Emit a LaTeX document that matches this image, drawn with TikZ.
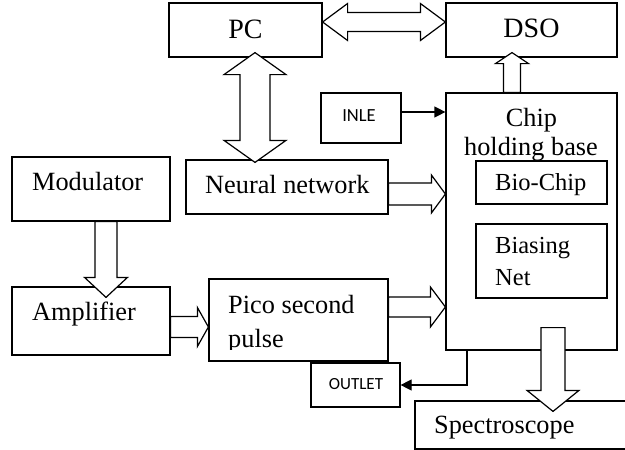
\documentclass[tikz,border=0pt]{standalone}
\usepackage{fontspec}
\setmainfont{Liberation Serif}
\newfontfamily\calfont{Carlito}
\usetikzlibrary{calc,fit,arrows.meta}
\tikzset{
  box/.style={draw, line width=1.2pt, inner sep=0pt, fill=white},
  blk/.style={draw, line width=1.2pt, fill=white, line join=miter},
  lbl/.style={inner sep=0pt, anchor=base west, font=\fontsize{26.3}{30}\selectfont},
  lblc/.style={inner sep=0pt, anchor=base, font=\fontsize{26.3}{30}\selectfont},
  small/.style={inner sep=0pt, anchor=base west, font=\fontsize{24.5}{28}\selectfont},
  big/.style={inner sep=0pt, anchor=base, font=\fontsize{28}{32}\selectfont},
  thin/.style={line width=1.2pt, -{Triangle[length=11pt,width=11pt]}}
}
% single block arrow: from, to, shaft half width, head half width, head length
\newcommand\sarrow[5]{\draw[blk] let \p1=(#1), \p2=(#2), \n1={atan2(\y2-\y1,\x2-\x1)}, \n2={veclen(\x2-\x1,\y2-\y1)} in [shift={(\p1)}, rotate=\n1] (0,#3) -- (\n2-#5,#3) -- (\n2-#5,#4) -- (\n2,0) -- (\n2-#5,-#4) -- (\n2-#5,-#3) -- (0,-#3) -- cycle;}
% double block arrow
\newcommand\darrow[5]{\draw[blk] let \p1=(#1), \p2=(#2), \n1={atan2(\y2-\y1,\x2-\x1)}, \n2={veclen(\x2-\x1,\y2-\y1)} in [shift={(\p1)}, rotate=\n1] (0,0) -- (#5,#4) -- (#5,#3) -- (\n2-#5,#3) -- (\n2-#5,#4) -- (\n2,0) -- (\n2-#5,-#4) -- (\n2-#5,-#3) -- (#5,-#3) -- (#5,-#4) -- cycle;}
\begin{document}
\begin{tikzpicture}[x=1pt,y=-1pt]
\clip (0,0) rectangle (625,450);
\fill[white] (0,0) rectangle (625,450);
% boxes
\node[box, fit={(169,3) (322,57)}] (pc) {};
\node[box, fit={(446,3) (617,57)}] (dso) {};
\node[box, fit={(321,93) (401,143)}] (inle) {};
\node[box, fit={(446,93) (617,350)}] (chip) {};
\node[box, fit={(12,157) (170,221)}] (mod) {};
\node[box, fit={(186,160) (388,214)}] (neural) {};
\node[box, fit={(12,287) (170,355)}] (amp) {};
\node[box, fit={(209,279) (388,361)}] (pico) {};
\node[box, fit={(311,363) (400,407)}] (outlet) {};
\node[box, fit={(415,401) (640,449)}] (spec) {};
% chip labels
\node[lblc] (chipt) at (531.5,126) {Chip};
\node[lblc] (chipt2) at (531,155) {holding base};
\node[box, fit={(476,161) (607,204)}] (bio) {};
\node[box, fit={(476,224) (607,298)}] (bias) {};
% labels
\node[big] (pct) at (245.5,38) {PC};
\node[big] (dsot) at (531.5,37) {DSO};
\node[inner sep=0pt, anchor=base, font=\calfont\fontsize{18.5}{20}\selectfont] (inlet) at (359,121) {INLE};
\node[inner sep=0pt, anchor=base, font=\calfont\fontsize{17}{19}\selectfont] (outlett) at (356,389) {OUTLET};
\node[small] (biot) at (495,190) {Bio-Chip};
\node[small] (biast) at (495,253) {Biasing};
\node[small] (nett) at (495,285) {Net};
\node[lbl] (modt) at (32,190) {Modulator};
\node[lbl] (neut) at (205,193) {Neural network};
\node[lbl] (ampt) at (32,320) {Amplifier};
\node[lbl] (picot) at (228,313) {Pico second};
\begin{scope}
\clip (209,279) rectangle (388,349.5);
\node[lbl] (picot2) at (228,347) {pulse};
\end{scope}
\node[lbl] (spect) at (434,433) {Spectroscope};
% block arrows
\darrow{pc.east |- 0,22}{dso.west |- 0,22}{9.5}{18.5}{25}
\darrow{$(pc.south)+(9.5,-5)$}{$(neural.north)+(-32,3)$}{15}{31}{22}
\sarrow{$(mod.south)+(15,0)$}{$(amp.north)+(15,11)$}{11}{21.5}{20}
\sarrow{amp.east |- 0,327}{pico.west |- 0,327}{10.5}{19.5}{11}
\sarrow{neural.east |- 0,194}{chip.west |- 0,194}{11}{19}{14}
\sarrow{pico.east |- 0,307}{chip.west |- 0,307}{10}{20}{15}
\sarrow{$(chip.north)+(-19.5,0)$}{$(dso.south)+(-19.5,-5)$}{8.5}{16.5}{11}
\sarrow{$(chip.south)+(21.5,-23)$}{$(spec.north -| chip.south)+(21.5,11)$}{12}{26}{21}
% thin arrows
\draw[thin] (inle.east |- 0,112) -- (chip.west |- 0,112);
\draw[thin] ($(chip.south)+(-64.5,0)$) |- (outlet.east);
\end{tikzpicture}
\end{document}
